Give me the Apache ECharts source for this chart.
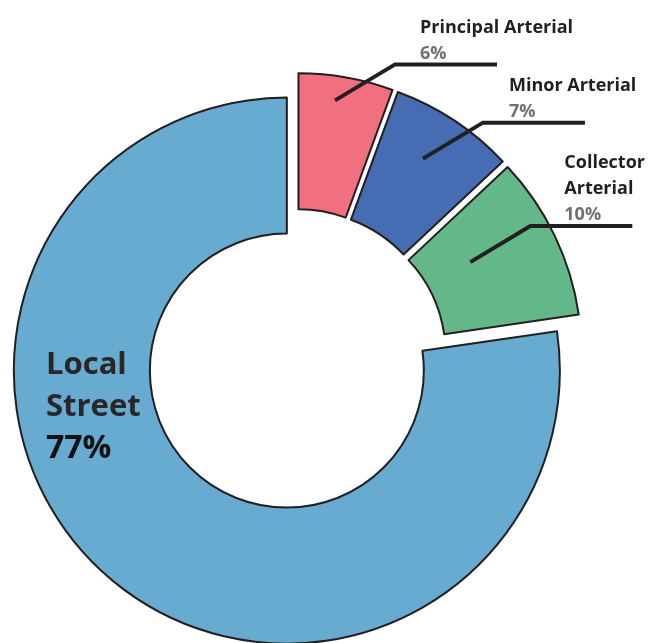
<!DOCTYPE html>
<html>
<head>
<meta charset="utf-8">
<script src="https://cdn.jsdelivr.net/npm/echarts@6/dist/echarts.min.js"></script>
<style>
  html, body { margin: 0; padding: 0; background: #ffffff; }
  #chart { width: 653px; height: 643px; }
</style>
</head>
<body>
<div id="chart"></div>
<script>
// ---- data ----
const categories = ['Principal Arterial', 'Minor Arterial', 'Collector Arterial', 'Local Street'];
const displayNames = ['Principal Arterial', 'Minor Arterial', 'Collector\nArterial', 'Local\nStreet'];
const shares = [5.6, 7.4, 9.7, 77.3];
const sliceColors = ['#f0707f', '#466cb4', '#64b789', '#67abd0'];

// ---- layout ----
const CENTER = [296, 360];
const R_IN = 137, R_OUT = 273, OFFSET = 14;
// where each callout line starts inside its slice (fraction along the arc, fraction across the ring)
const calloutT = [0.42, 0.45, 0.39];
const calloutRF = [0.82, 0.64, 0.36];
const calloutTextDx = [25, 26, 34];
const INK = '#231f20';
const FONT = '"Open Sans", Lato, sans-serif';
const CLEAR = 'rgba(0,0,0,0)';

const total = shares.reduce((a, b) => a + b, 0);
function sliceAngles(i) {
  let cum = 0;
  for (let k = 0; k < i; k++) cum += shares[k];
  const a0 = 90 - 360 * cum / total;
  const a1 = a0 - 360 * shares[i] / total;
  return [a0, a1];
}
function sliceCenter(i) {
  const [a0, a1] = sliceAngles(i);
  const mid = (a0 + a1) / 2 * Math.PI / 180;
  return [CENTER[0] + OFFSET * Math.cos(mid), CENTER[1] - OFFSET * Math.sin(mid)];
}
function calloutPoints(i) {
  const [a0, a1] = sliceAngles(i);
  const c = sliceCenter(i);
  const ang = (a0 - calloutT[i] * (a0 - a1)) * Math.PI / 180;
  const r = R_IN + calloutRF[i] * (R_OUT - R_IN);
  const p0 = [c[0] + r * Math.cos(ang), c[1] - r * Math.sin(ang)];
  const p1 = [p0[0] + 60, p0[1] - 36];
  const p2 = [p1[0] + 102, p1[1]];
  return [p0, p1, p2];
}

// one pie series per slice, each drawn around its own exploded centre
const sliceSeries = categories.map((_, i) => ({
  type: 'pie',
  z: 2,
  silent: true,
  center: sliceCenter(i),
  radius: [R_IN, R_OUT],
  startAngle: 90,
  clockwise: true,
  label: { show: false },
  labelLine: { show: false },
  emphasis: { disabled: true },
  data: categories.map((name, k) => ({
    name: name,
    value: shares[k],
    itemStyle: k === i
      ? { color: sliceColors[k], borderColor: INK, borderWidth: 2 }
      : { color: CLEAR, borderWidth: 0 }
  }))
}));

// annotation layer: labels and callout lines on top of the slices
const lastIdx = categories.length - 1;
const labelSeries = {
  type: 'pie',
  z: 3,
  silent: true,
  center: CENTER,
  radius: [R_IN, R_OUT],
  startAngle: 90,
  clockwise: true,
  percentPrecision: 0,
  avoidLabelOverlap: false,
  emphasis: { disabled: true },
  itemStyle: { color: CLEAR, borderWidth: 0 },
  label: {
    show: true,
    position: 'outside',
    formatter: p => displayNames[p.dataIndex].split('\n').map(s => '{nm|' + s + '}').join('\n') + '\n{pct|' + p.percent + '%}',
    rich: {
      nm: { fontSize: 18, fontWeight: 'bold', color: INK, lineHeight: 26, fontFamily: FONT },
      pct: { fontSize: 18, fontWeight: 'bold', color: '#707070', lineHeight: 26, fontFamily: FONT }
    }
  },
  labelLine: {
    show: true,
    smooth: false,
    lineStyle: { color: INK, width: 4 }
  },
  labelLayout: function (params) {
    const i = params.dataIndex;
    if (i === lastIdx) {
      return { x: 46, y: 344, align: 'left', verticalAlign: 'top' };
    }
    const pts = calloutPoints(i);
    return {
      x: pts[1][0] + calloutTextDx[i],
      y: pts[1][1] + 2,
      align: 'left',
      verticalAlign: 'bottom',
      labelLinePoints: pts
    };
  },
  data: categories.map((name, i) => i === lastIdx ? {
    name: name,
    value: shares[i],
    label: {
      position: 'inside',
      formatter: p => displayNames[i].split('\n').map(s => '{big|' + s + '}').join('\n') + '\n{bigPct|' + p.percent + '%}',
      rich: {
        big: { fontSize: 31, fontWeight: 'bold', color: '#2a2627', lineHeight: 42, fontFamily: FONT },
        bigPct: { fontSize: 32, fontWeight: 'bold', color: '#111111', lineHeight: 42, fontFamily: FONT }
      }
    },
    labelLine: { show: false }
  } : { name: name, value: shares[i] })
};

const chart = echarts.init(document.getElementById('chart'), null, { renderer: 'canvas' });
chart.setOption({
  backgroundColor: '#ffffff',
  animation: false,
  series: sliceSeries.concat([labelSeries])
});
</script>
</body>
</html>
